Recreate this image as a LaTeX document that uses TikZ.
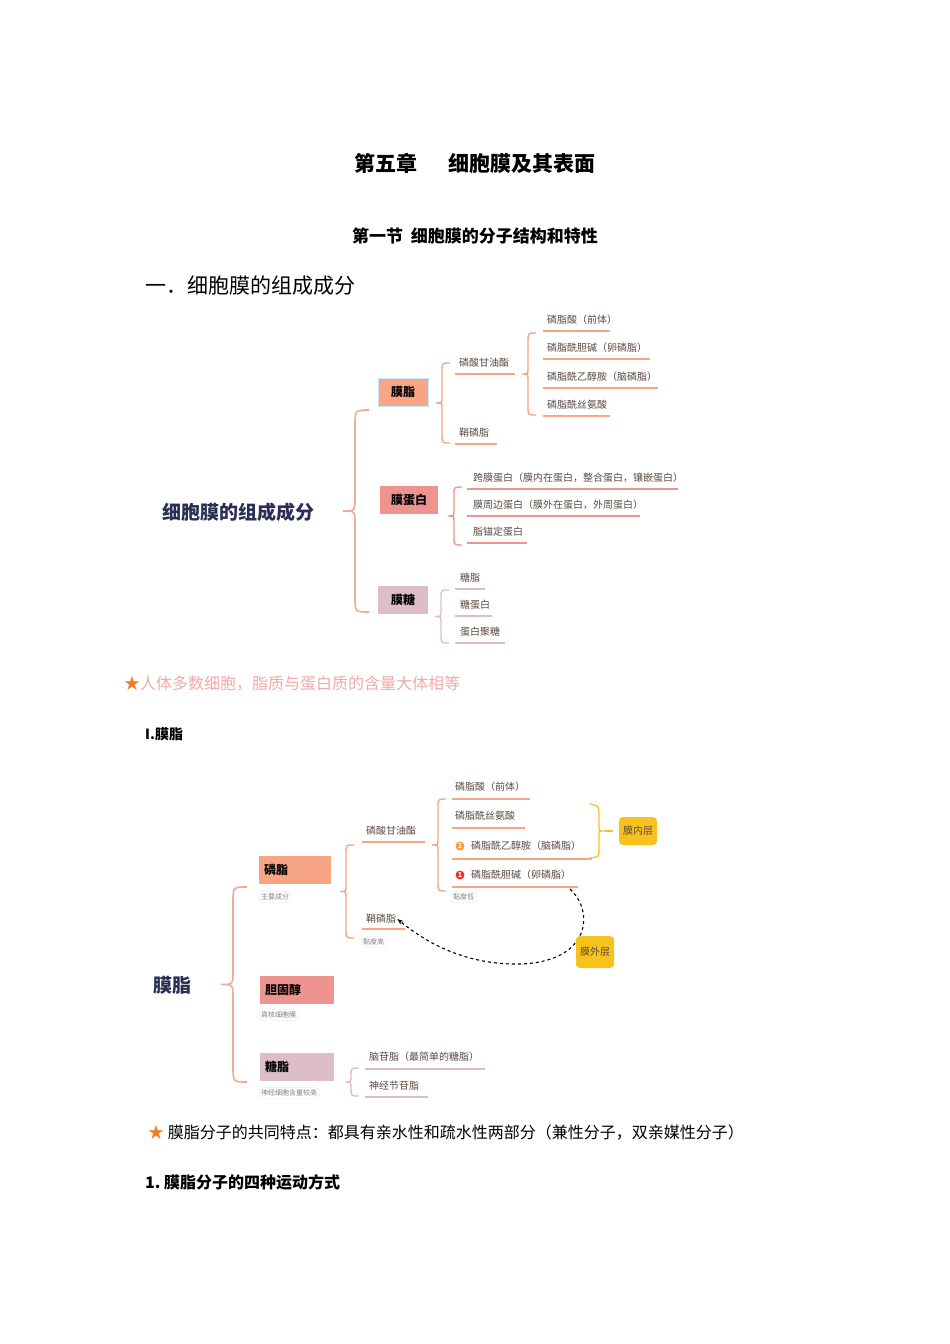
\documentclass[tikz,border=0pt]{standalone}
\usepackage{fontspec}
\setmainfont{Noto Sans CJK SC}
\usetikzlibrary{arrows.meta,positioning,calc}
\definecolor{navy}{HTML}{2B2D55}
\definecolor{salmon}{HTML}{F8A585}
\definecolor{rose}{HTML}{EE9490}
\definecolor{mauve}{HTML}{DDBEC6}
\definecolor{leaf}{HTML}{5A4A44}
\definecolor{gold}{HTML}{F8C21C}
\definecolor{starc}{HTML}{F07F2A}
% curly brace: x, top, bottom, colour
\newcommand{\brc}[4]{%
  \draw[#4,line width=1.4pt] ($(#1,#2)+(8,0)$) .. controls (#1,#2) .. ($(#1,#2)+(0,8)$)
    -- ($(#1,{(#2+#3)/2})+(0,-6)$) .. controls (#1,{(#2+#3)/2}) .. ($(#1,{(#2+#3)/2})+(-6,0)$)
    .. controls (#1,{(#2+#3)/2}) .. ($(#1,{(#2+#3)/2})+(0,6)$)
    -- ($(#1,#3)+(0,-8)$) .. controls (#1,#3) .. ($(#1,#3)+(8,0)$);}
% wide brace for a root
\newcommand{\bigbrc}[4]{%
  \draw[#4,line width=1.6pt] ($(#1,#2)+(14,0)$) .. controls (#1,#2) .. ($(#1,#2)+(0,16)$)
    -- ($(#1,{(#2+#3)/2})+(0,-14)$) .. controls (#1,{(#2+#3)/2}) .. ($(#1,{(#2+#3)/2})+(-12,0)$)
    .. controls (#1,{(#2+#3)/2}) .. ($(#1,{(#2+#3)/2})+(0,14)$)
    -- ($(#1,#3)+(0,-16)$) .. controls (#1,#3) .. ($(#1,#3)+(14,0)$);}
\begin{document}
\begin{tikzpicture}[x=1pt,y=-1pt]
  \tikzset{title/.style={font=\fontsize{21}{24}\selectfont\bfseries, anchor=center},
    root/.style={font=\fontsize{19}{22}\selectfont\bfseries, text=navy},
    box/.style={font=\fontsize{12}{14}\selectfont\bfseries, minimum height=28pt, inner sep=3pt},
    item/.style={font=\fontsize{10}{12}\selectfont, text=leaf, anchor=west, inner sep=1pt},
    note/.style={font=\fontsize{7}{8}\selectfont, text=gray, draw=gray!25, rounded corners=3pt, inner sep=2pt},
    tag/.style={font=\fontsize{10}{12}\selectfont, text=leaf, fill=gold, rounded corners=4pt, minimum height=28pt, inner sep=4pt}}
  \useasboundingbox (0,0) rectangle (950,1344);

  \node[title] (t1) at (475,163) {第五章\hspace{1.5em}细胞膜及其表面};
  \node[font=\fontsize{17}{20}\selectfont\bfseries] (t2) at (475,236) {第一节\ \ 细胞膜的分子结构和特性};
  \node[font=\fontsize{21}{24}\selectfont, anchor=west, inner sep=0] (t3) at (145,286) {一．细胞膜的组成成分};

  % map one
  \node[root] (r1) at (238,512) {细胞膜的组成成分};
  \bigbrc{355}{410}{612}{salmon!80!mauve}
  \node[box, fill=salmon, draw=cyan!25, minimum width=50pt] (mz) at (403,392) {膜脂};
  \node[box, fill=rose, minimum width=58pt] (mdb) at (409,500) {膜蛋白};
  \node[box, fill=mauve, minimum width=50pt] (mt) at (403,600) {膜糖};

  \brc{442}{363}{443}{salmon}
  \node[item] (lsg) at (458,363) {磷酸甘油酯};
  \draw[salmon,line width=1.4pt] (455,374) -- (515,374);
  \node[item] (qlz) at (458,433) {鞘磷脂};
  \draw[salmon,line width=1.4pt] (455,444) -- (497,444);
  \brc{528}{333}{415}{salmon}
  \foreach \y/\t/\e in {320/磷脂酸（前体）/610, 348/磷脂酰胆碱（卵磷脂）/650, 377/磷脂酰乙醇胺（脑磷脂）/658, 405/磷脂酰丝氨酸/610}{
    \node[item] at (546,\y) {\t};
    \draw[salmon,line width=1.4pt] (543,\y+11) -- (\e,\y+11);}

  \brc{454}{487}{545}{rose}
  \foreach \y/\t/\e in {478/跨膜蛋白（膜内在蛋白，整合蛋白，镶嵌蛋白）/678, 505/膜周边蛋白（膜外在蛋白，外周蛋白）/640, 532/脂锚定蛋白/527}{
    \node[item] at (472,\y) {\t};
    \draw[rose,line width=1.4pt] (467,\y+11) -- (\e,\y+11);}

  \brc{441}{590}{643}{mauve}
  \foreach \y/\t/\e in {578/糖脂/485, 605/糖蛋白/492, 632/蛋白聚糖/505}{
    \node[item] at (459,\y) {\t};
    \draw[mauve,line width=1.4pt] (455,\y+11) -- (\e,\y+11);}

  \node[font=\fontsize{16}{19}\selectfont, anchor=west, inner sep=0] (s1) at (124,684)
    {\textcolor{starc}{★}\textcolor{rose!80}{人体多数细胞，脂质与蛋白质的含量大体相等}};
  \node[font=\fontsize{14}{16}\selectfont\bfseries, anchor=west, inner sep=0] (h1) at (145,734) {I.膜脂};

  % map two
  \node[root] (r2) at (172,985) {膜脂};
  \bigbrc{233}{887}{1082}{salmon!80!mauve}
  \node[box, fill=salmon, minimum width=72pt, text width=62pt] (lz) at (295,870) {磷脂};
  \node[note, anchor=west] (n1) at (259,897) {主要成分};
  \node[box, fill=rose, minimum width=74pt, text width=64pt] (dgc) at (297,990) {胆固醇};
  \node[note, anchor=west] (n2) at (259,1015) {真核细胞膜};
  \node[box, fill=mauve, minimum width=74pt, text width=64pt] (tz) at (297,1067) {糖脂};
  \node[note, anchor=west] (n3) at (259,1093) {神经细胞含量较高};

  \brc{346}{845}{938}{salmon}
  \node[item] (lsg2) at (365,831) {磷酸甘油酯};
  \draw[salmon,line width=1.4pt] (362,842) -- (425,842);
  \node[item] (qlz2) at (365,919) {鞘磷脂};
  \draw[salmon,line width=1.4pt] (362,929) -- (405,929);
  \node[note, anchor=west] (n4) at (361,942) {黏度高};

  \brc{438}{799}{891}{salmon}
  \node[item] (p1) at (454,787) {磷脂酸（前体）};
  \draw[salmon,line width=1.4pt] (452,799) -- (530,799);
  \node[item] (p2) at (454,816) {磷脂酰丝氨酸};
  \draw[salmon,line width=1.4pt] (452,828) -- (525,828);
  \node[circle, fill=orange!80, text=white, inner sep=0.8pt, font=\fontsize{7}{7}\selectfont\bfseries] (b2) at (460,846) {2};
  \node[item] (p3) at (470,846) {磷脂酰乙醇胺（脑磷脂）};
  \draw[salmon,line width=1.4pt] (452,859) -- (592,859);
  \node[circle, fill=red!85, text=white, inner sep=0.8pt, font=\fontsize{7}{7}\selectfont\bfseries] (b1) at (460,875) {1};
  \node[item] (p4) at (470,875) {磷脂酰胆碱（卵磷脂）};
  \draw[salmon,line width=1.4pt] (452,887) -- (578,887);
  \coordinate (pe) at (570,889);
  \node[note, anchor=west] (n5) at (451,897) {黏度低};

  \draw[gold,line width=1.3pt] (590,804) .. controls (599,806) .. (599,815) -- (599,826) .. controls (599,831) .. (605,831)
    .. controls (599,831) .. (599,836) -- (599,848) .. controls (599,857) .. (590,858);
  \draw[gold,line width=1.3pt] (605,831) -- (613,831);
  \node[tag] (nn) at (638,831) {膜内层};
  \draw[dashed, line width=1.1pt, -{Stealth[length=6pt]}] (pe) .. controls (595,912) and (590,962) .. (520,964)
    .. controls (470,965) and (430,946) .. (qlz2.east);
  \node[tag, minimum height=32pt] (nw) at (595,952) {膜外层};

  \brc{351}{1068}{1096}{mauve}
  \node[item] (ng) at (368,1057) {脑苷脂（最简单的糖脂）};
  \draw[mauve,line width=1.4pt] (365,1069) -- (485,1069);
  \node[item] (sj) at (368,1086) {神经节苷脂};
  \draw[mauve,line width=1.4pt] (365,1097) -- (428,1097);

  \node[font=\fontsize{16}{19}\selectfont, anchor=west, inner sep=0] (s2) at (148,1132)
    {\textcolor{starc}{★} 膜脂分子的共同特点：都具有亲水性和疏水性两部分（兼性分子，双亲媒性分子）};
  \node[font=\fontsize{16}{19}\selectfont\bfseries, anchor=west, inner sep=0] (h2) at (145,1182) {1.\ 膜脂分子的四种运动方式};
\end{tikzpicture}
\end{document}
